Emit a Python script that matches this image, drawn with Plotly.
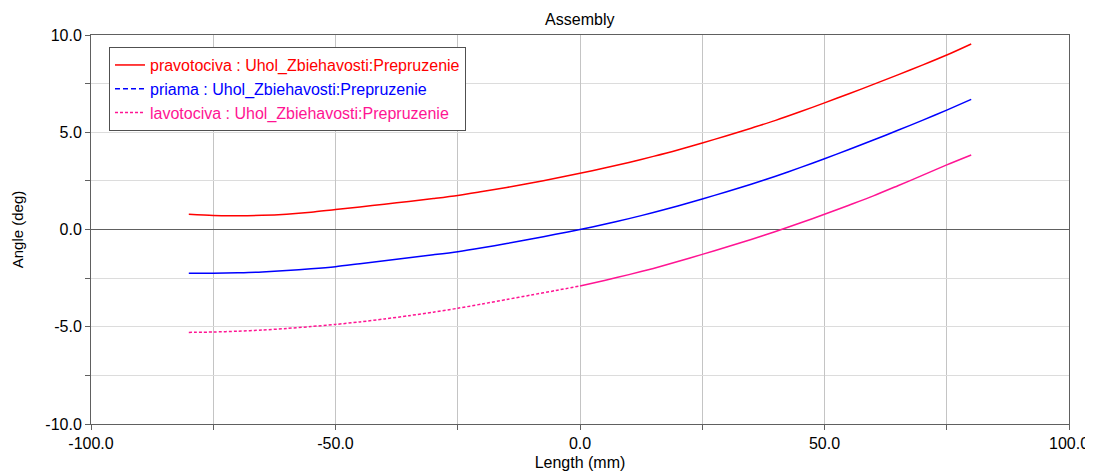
import plotly.graph_objects as go

length_mm = [-80, -75, -70, -65, -60, -55, -50, -45, -40, -35, -30, -25, -20, -15, -10, -5,
             0, 5, 10, 15, 20, 25, 30, 35, 40, 45, 50, 55, 60, 65, 70, 75, 80]
pravotociva = [0.78, 0.72, 0.71, 0.73, 0.79, 0.89, 1.03, 1.16, 1.30, 1.44, 1.59, 1.75, 1.95, 2.16, 2.39, 2.63,
               2.89, 3.16, 3.45, 3.76, 4.09, 4.45, 4.82, 5.21, 5.61, 6.05, 6.51, 6.98, 7.46, 7.95, 8.45, 8.97, 9.54]
priama = [-2.25, -2.25, -2.22, -2.18, -2.11, -2.02, -1.91, -1.76, -1.61, -1.45, -1.30, -1.14, -0.94, -0.72, -0.49, -0.25,
          0.0, 0.27, 0.56, 0.87, 1.21, 1.57, 1.94, 2.33, 2.74, 3.18, 3.64, 4.11, 4.60, 5.10, 5.61, 6.14, 6.69]
lavotociva = [-5.29, -5.27, -5.23, -5.17, -5.09, -4.99, -4.88, -4.75, -4.60, -4.43, -4.25, -4.05, -3.83, -3.60, -3.37, -3.14,
              -2.90, -2.62, -2.32, -2.00, -1.65, -1.28, -0.90, -0.51, -0.10, 0.33, 0.78, 1.25, 1.73, 2.25, 2.78, 3.32, 3.83]

x_tick_vals = [-100, -50, 0, 50, 100]
x_tick_text = ["-100.0", "-50.0", "0.0", "50.0", "100.0"]
y_tick_vals = [-10, -5, 0, 5, 10]
y_tick_text = ["-10.0", "-5.0", "0.0", "5.0", "10.0"]

names = ["pravotociva : Uhol_Zbiehavosti:Prepruzenie",
         "priama : Uhol_Zbiehavosti:Prepruzenie",
         "lavotociva : Uhol_Zbiehavosti:Prepruzenie"]
colors = ["#ff0000", "#0000ff", "#ff1493"]

FONT = "Liberation Sans, Arial, sans-serif"


def lab(i):
    return '<span style="color:%s">%s</span>' % (colors[i], names[i])


fig = go.Figure()
# red
fig.add_trace(go.Scatter(x=length_mm, y=pravotociva, mode="lines", name=lab(0),
                         line=dict(color=colors[0], width=1.5, shape="spline", smoothing=0.8)))
# blue: plot solid, legend dashed
fig.add_trace(go.Scatter(x=length_mm, y=priama, mode="lines", name=lab(1), showlegend=False,
                         line=dict(color=colors[1], width=1.5, shape="spline", smoothing=0.8)))
fig.add_trace(go.Scatter(x=[None], y=[None], mode="lines", name=lab(1),
                         line=dict(color=colors[1], width=1.5, dash="5px,3px")))
# magenta: dotted for negative x, solid for positive x
i0 = length_mm.index(0)
fig.add_trace(go.Scatter(x=length_mm[:i0 + 1], y=lavotociva[:i0 + 1], mode="lines", name=lab(2),
                         line=dict(color=colors[2], width=1.5, dash="3px,2px", shape="spline", smoothing=0.8)))
fig.add_trace(go.Scatter(x=length_mm[i0:], y=lavotociva[i0:], mode="lines", name=lab(2), showlegend=False,
                         line=dict(color=colors[2], width=1.5, shape="spline", smoothing=0.8)))

fig.update_layout(
    width=1085, height=464,
    margin=dict(l=83, r=24, t=27, b=48),
    paper_bgcolor="white", plot_bgcolor="white",
    font=dict(family=FONT, size=16, color="black"),
    title=dict(text="Assembly", x=0.527, xanchor="center", y=0.976, yanchor="middle",
               font=dict(size=16, family=FONT, color="black")),
    legend=dict(x=0.0184, y=0.969, xanchor="left", yanchor="top",
                bgcolor="white", bordercolor="#505050", borderwidth=1,
                font=dict(size=16, family=FONT), tracegroupgap=0,
                itemwidth=30),
    showlegend=True,
)

fig.update_xaxes(
    range=[-100, 100], tickmode="array", tickvals=x_tick_vals, ticktext=x_tick_text,
    automargin=False,
    showline=True, linecolor="#606060", linewidth=1, mirror=True,
    ticks="outside", ticklen=5, tickcolor="#606060",
    showgrid=True, gridcolor="#c4c4c4", gridwidth=1,
    zeroline=False,
    minor=dict(dtick=25, tick0=0, showgrid=True, gridcolor="#c4c4c4", ticks="outside",
               ticklen=5, tickcolor="#606060"),
    tickfont=dict(size=16, family=FONT),
    title=dict(text="Length (mm)", font=dict(size=16, family=FONT), standoff=5),
)
fig.update_yaxes(
    range=[-10, 10], tickmode="array", tickvals=y_tick_vals, ticktext=y_tick_text,
    automargin=False,
    showline=True, linecolor="#606060", linewidth=1, mirror=True,
    ticks="outside", ticklen=5, tickcolor="#606060",
    showgrid=True, gridcolor="#dcdcdc", gridwidth=1,
    zeroline=True, zerolinecolor="#606060", zerolinewidth=1,
    minor=dict(dtick=2.5, tick0=0, showgrid=True, gridcolor="#dcdcdc", ticks="outside",
               ticklen=5, tickcolor="#606060"),
    tickfont=dict(size=16, family=FONT),
    title=dict(text="Angle (deg)", font=dict(size=15, family=FONT), standoff=18),
)

fig.write_html("out.html")
